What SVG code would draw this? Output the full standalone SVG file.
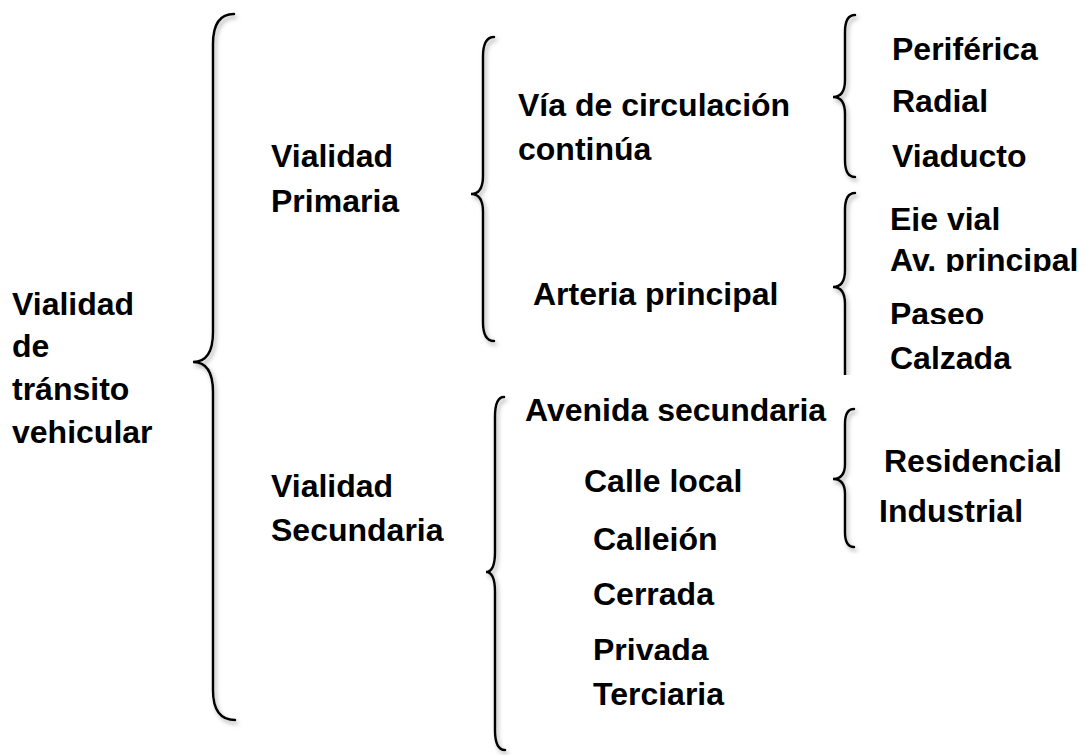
<svg xmlns="http://www.w3.org/2000/svg" width="1086" height="755" viewBox="0 0 1086 755">
<style>
text{font-family:"Liberation Sans",Arial,sans-serif;font-weight:bold;font-size:32px;fill:#000}
.brace{fill:none;stroke:#000;stroke-width:2.5;stroke-linecap:round;filter:url(#sh)}
</style>
<defs>
<filter id="sh" x="-50%" y="-5%" width="200%" height="110%">
<feDropShadow dx="2" dy="3" stdDeviation="2" flood-color="#777" flood-opacity="0.6"/>
</filter>
<clipPath id="cEje"><rect x="880" y="190" width="206" height="41"/></clipPath>
<clipPath id="cAv"><rect x="880" y="240" width="206" height="32"/></clipPath>
<clipPath id="cPaseo"><rect x="880" y="290" width="206" height="34"/></clipPath>
<clipPath id="cCallejon"><rect x="580" y="515" width="200" height="36"/></clipPath>
<clipPath id="cPrivada"><rect x="580" y="625" width="200" height="35"/></clipPath>
<clipPath id="cBrace4"><rect x="800" y="180" width="80" height="195"/></clipPath>
</defs>
<rect width="1086" height="755" fill="#fff"/>
<g id="connectors">
<path class="brace" d="M234 14 Q213 14 213 44 L213 332 Q213 362 193 362 Q213 362 213 392 L213 690 Q213 720 235 720"/>
<path class="brace" d="M494 37 Q483 37 483 57 L483 176 Q483 194 471 194 Q483 194 483 212 L483 322 Q483 341 494 341"/>
<path class="brace" d="M855 15 Q845 15 845 32 L845 80 Q845 97 833 97 Q845 97 845 114 L845 160 Q845 177 855 177"/>
<g clip-path="url(#cBrace4)"><path class="brace" d="M855 193 Q845 193 845 210 L845 270 Q845 287 833 287 Q845 287 845 304 L845 380"/></g>
<path class="brace" d="M504 397 Q495 397 495 417 L495 552 Q495 572 486 572 Q495 572 495 592 L495 730 Q495 750 505 750"/>
<path class="brace" d="M854 409 Q845 409 845 424 L845 464 Q845 479 833 479 Q845 479 845 494 L845 532 Q845 547 854 547"/>
</g>
<g id="root"><text x="12" y="315">Vialidad</text><text x="12" y="357">de</text><text x="12" y="400">tránsito</text><text x="12" y="443">vehicular</text></g>
<g id="primaria"><text x="271" y="167">Vialidad</text><text x="271" y="212">Primaria</text></g>
<g id="secundaria"><text x="271" y="497">Vialidad</text><text x="271" y="541">Secundaria</text></g>
<g id="via"><text x="518" y="116">Vía de circulación</text><text x="518" y="160">continúa</text></g>
<g id="arteria"><text x="533" y="305">Arteria principal</text></g>
<g id="periferica"><text x="892" y="60">Periférica</text></g>
<g id="radial"><text x="892" y="112">Radial</text></g>
<g id="viaducto"><text x="892" y="167">Viaducto</text></g>
<g id="eje" clip-path="url(#cEje)"><text x="890" y="230">Eje vial</text></g>
<g id="av" clip-path="url(#cAv)"><text x="890" y="271">Av. principal</text></g>
<g id="paseo" clip-path="url(#cPaseo)"><text x="890" y="325">Paseo</text></g>
<g id="calzada"><text x="890" y="369">Calzada</text></g>
<g id="avsec"><text x="525" y="421">Avenida secundaria</text></g>
<g id="calle"><text x="584" y="492">Calle local</text></g>
<g id="callejon" clip-path="url(#cCallejon)"><text x="593" y="550">Callejón</text></g>
<g id="cerrada"><text x="593" y="605">Cerrada</text></g>
<g id="privada" clip-path="url(#cPrivada)"><text x="593" y="661">Privada</text></g>
<g id="terciaria"><text x="593" y="705">Terciaria</text></g>
<g id="residencial"><text x="884" y="472">Residencial</text></g>
<g id="industrial"><text x="879" y="522">Industrial</text></g>
</svg>
